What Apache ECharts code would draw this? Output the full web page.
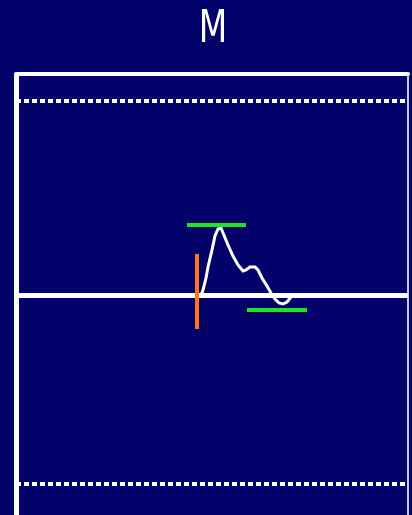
<!DOCTYPE html>
<html>
<head>
<meta charset="utf-8">
<style>
  html, body { margin: 0; padding: 0; background: #02026a; }
  #chart { width: 412px; height: 515px; }
</style>
<script src="https://cdn.jsdelivr.net/npm/echarts@6/dist/echarts.min.js"></script>
</head>
<body>
<div id="chart"></div>
<script>
// Trace: time (ms from sweep start) and amplitude (divisions above baseline)
const timeMs    = [185, 187, 190, 192, 196, 199, 202, 205, 207, 212, 217, 222, 227, 230, 234, 239, 242, 246, 251, 255, 259, 263, 267, 271, 275, 278];
const amplitude = [0, 0.25, 0.85, 1.4, 2.25, 2.95, 3.3, 3.35, 3.25, 2.5, 1.95, 1.5, 1.2, 1.25, 1.4, 1.4, 1.25, 0.85, 0.45, 0.1, -0.2, -0.4, -0.45, -0.35, -0.1, 0];

// Sweep and screen extents
const sweepRange = [0, 392];
const amplitudeRange = [-11, 11];
const baselineLevel = 0;
const referenceLevels = [9.7, -9.45];

// Cursors
const peakCursorSpan = [171, 230];
const peakCursorLevel = 3.5;
const troughCursorSpan = [231, 291];
const troughCursorLevel = -0.75;
const onsetMarkTime = 181;
const onsetMarkRange = [2.05, -1.7];

const channelTitle = 'M';

const chart = echarts.init(document.getElementById('chart'), null, { renderer: 'canvas' });

const trace = timeMs.map((t, i) => [t, amplitude[i]]);

chart.setOption({
  backgroundColor: '#02026a',
  animation: false,
  graphic: [{
    type: 'text',
    x: 213,
    y: 31,
    scaleX: 0.75,
    style: {
      text: channelTitle,
      fill: '#ffffff',
      font: '44px "DejaVu Sans"',
      textAlign: 'center',
      textVerticalAlign: 'middle'
    }
  }],
  grid: { left: 16, right: 4, top: 75, bottom: 0, containLabel: false },
  xAxis: {
    type: 'value',
    min: sweepRange[0],
    max: sweepRange[1],
    position: 'top',
    offset: 1,
    axisLine: { show: true, onZero: false, lineStyle: { color: '#ffffff', width: 4 } },
    axisTick: { show: false },
    axisLabel: { show: false },
    splitLine: { show: false }
  },
  yAxis: [{
    type: 'value',
    min: amplitudeRange[0],
    max: amplitudeRange[1],
    position: 'left',
    axisLine: { show: true, onZero: false, lineStyle: { color: '#ffffff', width: 5 } },
    axisTick: { show: false },
    axisLabel: { show: false },
    splitLine: { show: false }
  }, {
    type: 'value',
    min: amplitudeRange[0],
    max: amplitudeRange[1],
    position: 'right',
    axisLine: { show: true, onZero: false, lineStyle: { color: '#c8c8ee', width: 2 } },
    axisTick: { show: false },
    axisLabel: { show: false },
    splitLine: { show: false }
  }],
  series: [{
    // baseline and dotted reference levels
    type: 'line',
    data: [],
    silent: true,
    markLine: {
      silent: true,
      symbol: 'none',
      label: { show: false },
      data: [
        { yAxis: baselineLevel, lineStyle: { color: '#ffffff', width: 5, type: 'solid' } },
        { yAxis: referenceLevels[0], lineStyle: { color: '#ffffff', width: 4, type: [5, 3] } },
        { yAxis: referenceLevels[1], lineStyle: { color: '#ffffff', width: 4, type: [5, 3] } }
      ]
    }
  }, {
    name: 'trace',
    type: 'line',
    data: trace,
    showSymbol: false,
    smooth: false,
    silent: true,
    lineStyle: { color: '#ffffff', width: 3, join: 'miter' },
    z: 3
  }, {
    // measurement cursors
    type: 'line',
    data: [],
    silent: true,
    z: 4,
    markLine: {
      silent: true,
      symbol: 'none',
      label: { show: false },
      data: [
        [
          { coord: [peakCursorSpan[0], peakCursorLevel], lineStyle: { color: '#1ee61e', width: 4, type: 'solid' } },
          { coord: [peakCursorSpan[1], peakCursorLevel] }
        ],
        [
          { coord: [troughCursorSpan[0], troughCursorLevel], lineStyle: { color: '#1ee61e', width: 4, type: 'solid' } },
          { coord: [troughCursorSpan[1], troughCursorLevel] }
        ],
        [
          { coord: [onsetMarkTime, onsetMarkRange[0]], lineStyle: { color: '#ff7418', width: 4, type: 'solid' } },
          { coord: [onsetMarkTime, onsetMarkRange[1]] }
        ]
      ]
    }
  }]
});
</script>
</body>
</html>
